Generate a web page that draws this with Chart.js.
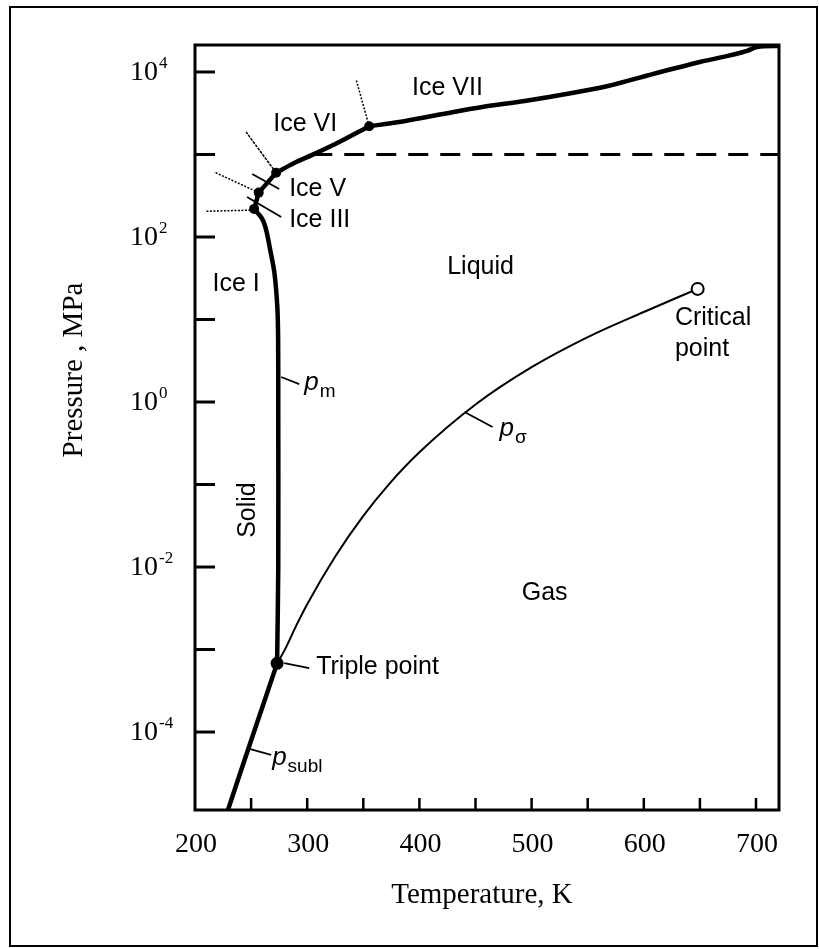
<!DOCTYPE html>
<html>
<head>
<meta charset="utf-8">
<title>Phase diagram of water</title>
<script src="https://cdn.jsdelivr.net/npm/chart.js@4.4.1/dist/chart.umd.min.js"></script>
<style>
  html, body { margin: 0; padding: 0; background: #fff; }
  #wrap { width: 819px; height: 949px; }
</style>
</head>
<body>
<div id="wrap"><canvas id="chart" width="819" height="949"></canvas></div>
<script>
// Axis ticks
const xTickLabels = [200, 300, 400, 500, 600, 700];
const xTickMarks = [250, 300, 350, 400, 450, 500, 550, 600, 650, 700];
const yTickExps = [4, 2, 0, -2, -4];
const yTickMarks = [4, 3, 2, 1, 0, -1, -2, -3, -4];

// Sublimation curve (K, MPa)
const sublT = [229.5, 240, 250, 260, 273.16];
const sublP = [1.15e-5, 3.1e-5, 7.9e-5, 2.0e-4, 6.8e-4];

// Melting curve, Ice I
const meltT = [273.16, 274.2, 274.2, 274.1, 273.4, 270.8, 267, 263.4, 260, 252.7];
const meltP = [6.8e-4, 0.01, 1, 5.6, 14, 36.6, 70, 122, 165, 219];

// Vapour pressure curve
const vapT = [273.16, 280, 290, 300, 325, 350, 373, 400, 450, 500, 550, 600, 648];
const vapP = [6.8e-4, 9.9e-4, 1.92e-3, 3.54e-3, 0.0134, 0.0417, 0.1013, 0.2456, 0.932, 2.64, 6.12, 12.34, 23.5];

// High pressure ice boundaries
const iceIIIT = [252.7, 256.8];
const iceIIIP = [219, 345];
const iceVT = [256.8, 272.3];
const iceVP = [345, 600];
const iceVIT = [272.3, 288.4, 304.5, 328.6, 355.2];
const iceVIP = [600, 789, 990, 1418, 2200];
const iceVIIT = [355.2, 382, 419.4, 456, 493.8, 531, 568, 605, 650, 692, 701, 720.5];
const iceVIIP = [2200, 2477, 3070, 3764, 4450, 5410, 6760, 9200, 13200, 18000, 20100, 20650];

// 1000 MPa dashed line
const dashT = [304.5, 720.5];
const dashP = [1000, 1000];

// solid-solid stubs
const stubVIIT = [355.2, 343.7];
const stubVIIP = [2200, 8000];
const stubVIT = [272.3, 245.5];
const stubVIP = [600, 1875];
const stubVT = [256.8, 217];
const stubVP = [345, 614];
const stubIIIT = [252.5, 209.8];
const stubIIIP = [212, 205];

// label leader lines
const leadIceVT = [251, 275];
const leadIceVP = [580, 382];
const leadIceIIIT = [246.4, 276.8];
const leadIceIIIP = [305, 175];
const leadPmT = [276.8, 292.9];
const leadPmP = [2.01, 1.65];
const leadPsT = [440.2, 465.2];
const leadPsP = [0.757, 0.498];
const leadTripleT = [279.5, 301.8];
const leadTripleP = [6.86e-4, 5.97e-4];
const leadSublT = [249.3, 267.9];
const leadSublP = [6.2e-5, 5.3e-5];

// special points
const triplePts = [[273.16, 6.8e-4]];
const icePts = [[252.7, 219], [256.8, 345], [272.3, 600], [355.2, 2200]];
const criticalPts = [[648, 23.5]];

const serif = '"Liberation Serif", "Times New Roman", serif';
const sans = '"Liberation Sans", Arial, Helvetica, sans-serif';

function pts(T, P) {
  return T.map((t, i) => ({ x: t, y: P[i] }));
}

function line(T, P, width, dash, smooth) {
  const ds = {
    data: pts(T, P),
    showLine: true,
    borderColor: '#000',
    borderWidth: width,
    borderDash: dash || [],
    pointRadius: 0,
    tension: 0,
    fill: false
  };
  if (smooth === 'mono') ds.cubicInterpolationMode = 'monotone';
  else if (smooth) ds.tension = smooth;
  return ds;
}

function dots(list, r, fill, bw) {
  return {
    data: list.map(p => ({ x: p[0], y: p[1] })),
    showLine: false,
    pointRadius: r,
    pointBackgroundColor: fill,
    pointBorderColor: '#000',
    pointBorderWidth: bw
  };
}

// Text labels in data units
const regionLabels = [
  { text: 'Ice VII', T: 425, P: 6400, align: 'center' },
  { text: 'Ice VI', T: 298.2, P: 2344, align: 'center' },
  { text: 'Ice V', T: 283.9, P: 382, align: 'left' },
  { text: 'Ice III', T: 283.9, P: 161, align: 'left' },
  { text: 'Ice I', T: 236.6, P: 26.9, align: 'center' },
  { text: 'Liquid', T: 454.5, P: 43.3, align: 'center' },
  { text: 'Gas', T: 511.6, P: 4.84e-3, align: 'center' },
  { text: 'Triple point', T: 308, P: 6.14e-4, align: 'left' },
  { text: 'Critical', T: 627.7, P: 10.4, align: 'left' },
  { text: 'point', T: 627.7, P: 4.39, align: 'left' }
];
const curveLabels = [
  { sub: 'm', T: 297.3, P: 1.40 },
  { sub: '\u03c3', T: 471.4, P: 0.387 },
  { sub: 'subl', T: 268.75, P: 3.98e-5 }
];

const phasePlugin = {
  id: 'phaseDiagram',
  afterDraw(chart) {
    const ctx = chart.ctx;
    const xs = chart.scales.x;
    const ys = chart.scales.y;
    const a = chart.chartArea;
    ctx.save();
    ctx.strokeStyle = '#000';
    ctx.fillStyle = '#000';

    // outer frame
    ctx.lineWidth = 2;
    ctx.strokeRect(10, 7, 807, 939);

    // plot box
    ctx.lineWidth = 3;
    ctx.strokeRect(a.left, a.top, a.right - a.left, a.bottom - a.top);

    // inward ticks
    yTickMarks.forEach(e => {
      const y = ys.getPixelForValue(Math.pow(10, e));
      ctx.beginPath();
      ctx.moveTo(a.left, y);
      ctx.lineTo(a.left + 20, y);
      ctx.stroke();
    });
    ctx.lineWidth = 2.5;
    xTickMarks.forEach(t => {
      const x = xs.getPixelForValue(t);
      ctx.beginPath();
      ctx.moveTo(x, a.bottom);
      ctx.lineTo(x, a.bottom - 12);
      ctx.stroke();
    });

    // tick labels
    ctx.textBaseline = 'alphabetic';
    ctx.textAlign = 'left';
    yTickExps.forEach(e => {
      const y = ys.getPixelForValue(Math.pow(10, e));
      ctx.font = '28px ' + serif;
      ctx.fillText('10', 130, y + 8);
      const w = ctx.measureText('10').width;
      ctx.font = '17px ' + serif;
      ctx.fillText(String(e), 130 + w + 1, y - 4);
    });
    ctx.textAlign = 'center';
    ctx.font = '28px ' + serif;
    xTickLabels.forEach(t => {
      ctx.fillText(String(t), xs.getPixelForValue(t) + 1, a.bottom + 42);
    });

    // axis titles
    ctx.font = '29px ' + serif;
    ctx.fillText('Temperature, K', 482, 903);
    ctx.save();
    ctx.translate(82, 370);
    ctx.rotate(-Math.PI / 2);
    ctx.fillText('Pressure , MPa', 0, 0);
    ctx.restore();

    // region labels
    ctx.font = '25px ' + sans;
    ctx.textBaseline = 'middle';
    regionLabels.forEach(l => {
      ctx.textAlign = l.align;
      ctx.fillText(l.text, xs.getPixelForValue(l.T), ys.getPixelForValue(l.P));
    });
    ctx.save();
    ctx.translate(xs.getPixelForValue(247.3), ys.getPixelForValue(0.049));
    ctx.rotate(-Math.PI / 2);
    ctx.textAlign = 'center';
    ctx.fillText('Solid', 0, 0);
    ctx.restore();

    // curve names p_m, p_sigma, p_subl
    ctx.textAlign = 'left';
    ctx.textBaseline = 'alphabetic';
    curveLabels.forEach(l => {
      const x = xs.getPixelForValue(l.T);
      const y = ys.getPixelForValue(l.P);
      ctx.font = 'italic 26px ' + sans;
      ctx.fillText('p', x, y);
      const w = ctx.measureText('p').width;
      ctx.font = '19px ' + sans;
      ctx.fillText(l.sub, x + w + 1, y + 7);
    });
    ctx.restore();
  }
};

new Chart(document.getElementById('chart'), {
  type: 'scatter',
  data: {
    datasets: [
      dots(criticalPts, 6, '#fff', 2),
      dots(triplePts, 6.5, '#000', 0),
      dots(icePts, 5, '#000', 0),
      line(sublT, sublP, 4.5),
      line(meltT, meltP, 4.5, null, 0.3),
      line(vapT, vapP, 2, null, 'mono'),
      line(iceIIIT, iceIIIP, 4.5),
      line(iceVT, iceVP, 4.5),
      line(iceVIT, iceVIP, 4.5, null, 'mono'),
      line(iceVIIT, iceVIIP, 4.5, null, 'mono'),
      line(dashT, dashP, 3, [20, 12]),
      line(stubVIIT, stubVIIP, 1.5, [2, 1.5]),
      line(stubVIT, stubVIP, 1.5, [3, 1]),
      line(stubVT, stubVP, 1.5, [2, 1.5]),
      line(stubIIIT, stubIIIP, 1.5, [2, 1.5]),
      line(leadIceVT, leadIceVP, 1.8),
      line(leadIceIIIT, leadIceIIIP, 1.8),
      line(leadPmT, leadPmP, 1.8),
      line(leadPsT, leadPsP, 1.8),
      line(leadTripleT, leadTripleP, 1.8),
      line(leadSublT, leadSublP, 1.8)
    ]
  },
  options: {
    responsive: false,
    animation: false,
    devicePixelRatio: 1,
    events: [],
    layout: { padding: { left: 195, top: 45, right: 40, bottom: 139 } },
    plugins: {
      legend: { display: false },
      tooltip: { enabled: false }
    },
    scales: {
      x: { type: 'linear', min: 200, max: 720.5, display: false },
      y: { type: 'logarithmic', min: Math.pow(10, -4.945), max: Math.pow(10, 4.327), display: false }
    }
  },
  plugins: [phasePlugin]
});
</script>
</body>
</html>
